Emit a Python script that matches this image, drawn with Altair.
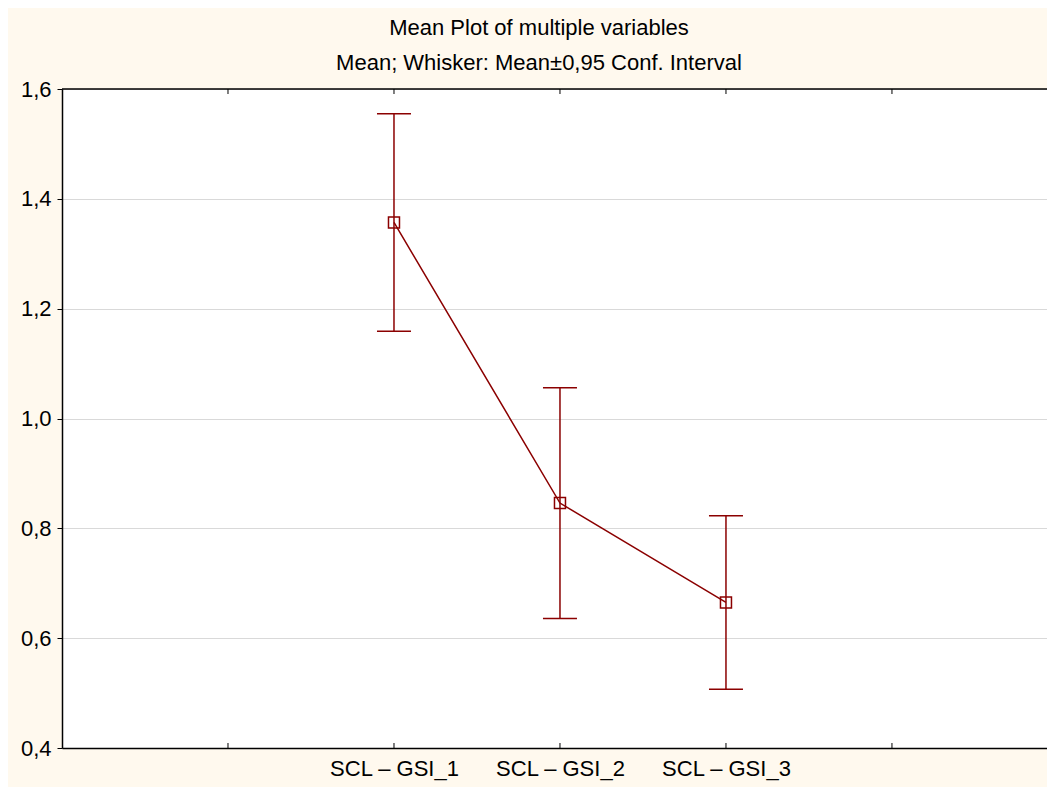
import altair as alt
import pandas as pd

# ---- data ----
variables = ["SCL – GSI_1", "SCL – GSI_2", "SCL – GSI_3"]
means = [1.357, 0.846, 0.665]
ci_low = [1.159, 0.636, 0.507]
ci_high = [1.555, 1.056, 0.823]
y_ticks = [0.4, 0.6, 0.8, 1.0, 1.2, 1.4, 1.6]
x_tick_slots = [1, 2, 3, 4, 5]
title_lines = ["Mean Plot of multiple variables", "Mean; Whisker: Mean±0,95 Conf. Interval"]

first_slot = 2
df = pd.DataFrame({
    "variable": variables,
    "pos": [first_slot + i for i in range(len(variables))],
    "mean": means,
    "low": ci_low,
    "high": ci_high,
})
ticks_df = pd.DataFrame({"pos": x_tick_slots})
one_df = pd.DataFrame({"a": [0]})

W, H = 985, 659
RED = "#8B0000"
FONT = "Liberation Sans"
FS = 22

label_expr = "[" + ",".join("'" + v + "'" for v in variables) + "][datum.value - " + str(first_slot) + "]"

x_scale = alt.Scale(domain=[0, 5.934], nice=False, zero=False)
y_scale = alt.Scale(domain=[0.4, 1.6], nice=False, zero=False)

x_enc = alt.X(
    "pos:Q", scale=x_scale,
    axis=alt.Axis(values=[2, 3, 4], labelExpr=label_expr, title=None, tickSize=0, grid=False,
                  domainColor="black", domainWidth=1.5, labelFont=FONT, labelFontSize=FS,
                  labelColor="black", labelPadding=10, labelFlush=False),
)
y_axis = alt.Axis(values=y_ticks, labelExpr="replace(format(datum.value, '.1f'), '.', ',')",
                  title=None, tickSize=5, tickColor="black", tickWidth=1, grid=True,
                  gridColor="#d9d9d9", gridWidth=1, domainColor="black", domainWidth=1.5,
                  labelFont=FONT, labelFontSize=FS, labelColor="black", labelPadding=6)

base = alt.Chart(df)

line = base.mark_line(color=RED, strokeWidth=1.5).encode(
    x=x_enc, y=alt.Y("mean:Q", scale=y_scale, axis=y_axis))
whisk = base.mark_rule(color=RED, strokeWidth=1.5).encode(
    x=x_enc, y=alt.Y("low:Q", scale=y_scale), y2="high:Q")
cap_lo = base.mark_tick(color=RED, thickness=1.5, size=34, orient="horizontal", opacity=1).encode(
    x=x_enc, y=alt.Y("low:Q", scale=y_scale))
cap_hi = base.mark_tick(color=RED, thickness=1.5, size=34, orient="horizontal", opacity=1).encode(
    x=x_enc, y=alt.Y("high:Q", scale=y_scale))
pts = base.mark_point(shape="square", filled=False, size=121, color=RED, strokeWidth=1.5, opacity=1).encode(
    x=x_enc, y=alt.Y("mean:Q", scale=y_scale))

top_border = alt.Chart(one_df).mark_rule(color="black", strokeWidth=1.5).encode(
    x=alt.value(0), x2=alt.value(W), y=alt.value(0))
ticks_top = alt.Chart(ticks_df).mark_rule(color="black", strokeWidth=1).encode(
    x=x_enc, y=alt.value(0), y2=alt.value(5))
ticks_bot = alt.Chart(ticks_df).mark_rule(color="black", strokeWidth=1).encode(
    x=x_enc, y=alt.value(H - 5), y2=alt.value(H))

chart = alt.layer(line, whisk, cap_lo, cap_hi, pts, top_border, ticks_top, ticks_bot).properties(
    width=W, height=H,
    title=alt.TitleParams(text=title_lines, fontSize=FS, font=FONT, fontWeight="normal",
                          color="black", lineHeight=35, offset=3, dx=-15.5,
                          anchor="middle", frame="group"),
    autosize=alt.AutoSizeParams(type="none"),
    padding={"left": 54, "top": 81, "right": 0, "bottom": 39},
    background="#FFF9EE",
).configure_view(stroke="transparent", fill="white")

chart.save("out.html", embed_options={"renderer": "svg", "actions": False})
